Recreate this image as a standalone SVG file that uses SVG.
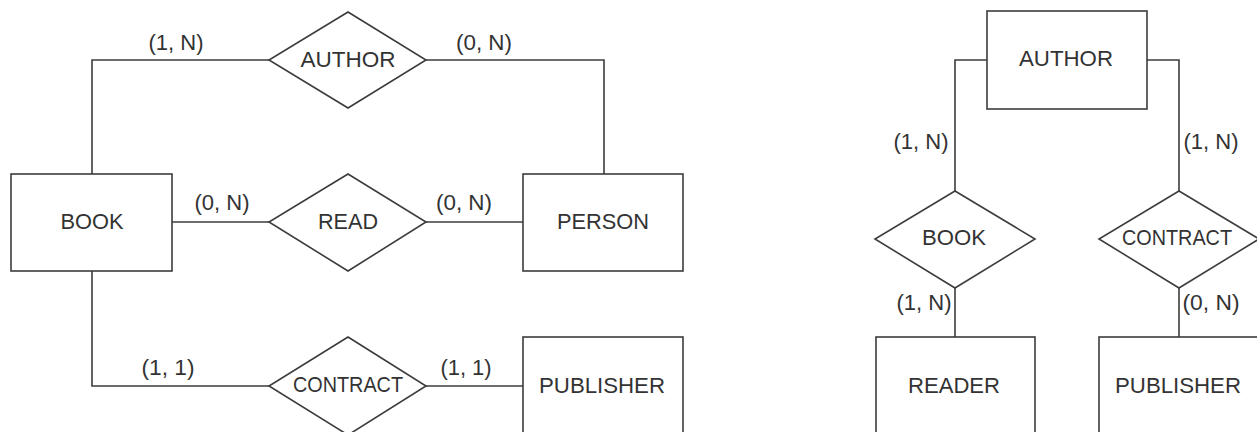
<svg xmlns="http://www.w3.org/2000/svg" width="1257" height="432" viewBox="0 0 1257 432">
<style>
.shape{fill:#fff;stroke:#3c3c3c;stroke-width:1.6}
.conn{fill:none;stroke:#3c3c3c;stroke-width:1.6}
text{font-family:"Liberation Sans",Arial,sans-serif;font-size:22px;fill:#333;text-anchor:middle}
</style>
<rect width="1257" height="432" fill="#fff"/>
<g id="connectors">
<polyline class="conn" points="92,174 92,60 269,60"/>
<polyline class="conn" points="426,60 604,60 604,174"/>
<line class="conn" x1="172" y1="222" x2="269" y2="222"/>
<line class="conn" x1="426" y1="222" x2="523" y2="222"/>
<polyline class="conn" points="92,271 92,386 269,386"/>
<line class="conn" x1="426" y1="386" x2="523" y2="386"/>
<polyline class="conn" points="987,60 955,60 955,191"/>
<polyline class="conn" points="1147,60 1179,60 1179,191"/>
<line class="conn" x1="955" y1="288" x2="955" y2="337"/>
<line class="conn" x1="1179" y1="288" x2="1179" y2="337"/>
</g>
<g id="labels">
<text x="176" y="50" textLength="55" lengthAdjust="spacingAndGlyphs">(1, N)</text>
<text x="484" y="50" textLength="56" lengthAdjust="spacingAndGlyphs">(0, N)</text>
<text x="222" y="210" textLength="55" lengthAdjust="spacingAndGlyphs">(0, N)</text>
<text x="464" y="210" textLength="56" lengthAdjust="spacingAndGlyphs">(0, N)</text>
<text x="168" y="375" textLength="53" lengthAdjust="spacingAndGlyphs">(1, 1)</text>
<text x="466" y="375" textLength="51" lengthAdjust="spacingAndGlyphs">(1, 1)</text>
<text x="921" y="149" textLength="55" lengthAdjust="spacingAndGlyphs">(1, N)</text>
<text x="1211" y="149" textLength="55" lengthAdjust="spacingAndGlyphs">(1, N)</text>
<text x="924" y="310" textLength="55" lengthAdjust="spacingAndGlyphs">(1, N)</text>
<text x="1211" y="310" textLength="57" lengthAdjust="spacingAndGlyphs">(0, N)</text>
</g>
<g id="rel-author">
<polygon class="shape" points="348,12 426,60 348,108 269,60"/>
<text x="348" y="67" textLength="95" lengthAdjust="spacingAndGlyphs">AUTHOR</text>
</g>
<g id="ent-book">
<rect class="shape" x="11" y="174" width="161" height="97"/>
<text x="92" y="229" textLength="63" lengthAdjust="spacingAndGlyphs">BOOK</text>
</g>
<g id="rel-read">
<polygon class="shape" points="348,174 426,222 348,271 269,222"/>
<text x="348" y="229" textLength="60" lengthAdjust="spacingAndGlyphs">READ</text>
</g>
<g id="ent-person">
<rect class="shape" x="523" y="174" width="160" height="97"/>
<text x="603" y="229" textLength="92" lengthAdjust="spacingAndGlyphs">PERSON</text>
</g>
<g id="rel-contract">
<polygon class="shape" points="348,337 426,386 348,435 269,386"/>
<text x="348" y="392" textLength="110" lengthAdjust="spacingAndGlyphs">CONTRACT</text>
</g>
<g id="ent-publisher">
<rect class="shape" x="523" y="337" width="160" height="110"/>
<text x="602" y="393" textLength="126" lengthAdjust="spacingAndGlyphs">PUBLISHER</text>
</g>
<g id="ent-author2">
<rect class="shape" x="987" y="11" width="160" height="98"/>
<text x="1066" y="66" textLength="94" lengthAdjust="spacingAndGlyphs">AUTHOR</text>
</g>
<g id="rel-book2">
<polygon class="shape" points="955,191 1035,239 955,288 875,239"/>
<text x="954" y="245" textLength="64" lengthAdjust="spacingAndGlyphs">BOOK</text>
</g>
<g id="rel-contract2">
<polygon class="shape" points="1179,191 1259,239 1179,288 1099,239"/>
<text x="1177" y="245" textLength="110" lengthAdjust="spacingAndGlyphs">CONTRACT</text>
</g>
<g id="ent-reader">
<rect class="shape" x="876" y="337" width="159" height="110"/>
<text x="954" y="393" textLength="92" lengthAdjust="spacingAndGlyphs">READER</text>
</g>
<g id="ent-publisher2">
<rect class="shape" x="1099" y="337" width="160" height="110"/>
<text x="1178" y="393" textLength="126" lengthAdjust="spacingAndGlyphs">PUBLISHER</text>
</g>
</svg>
